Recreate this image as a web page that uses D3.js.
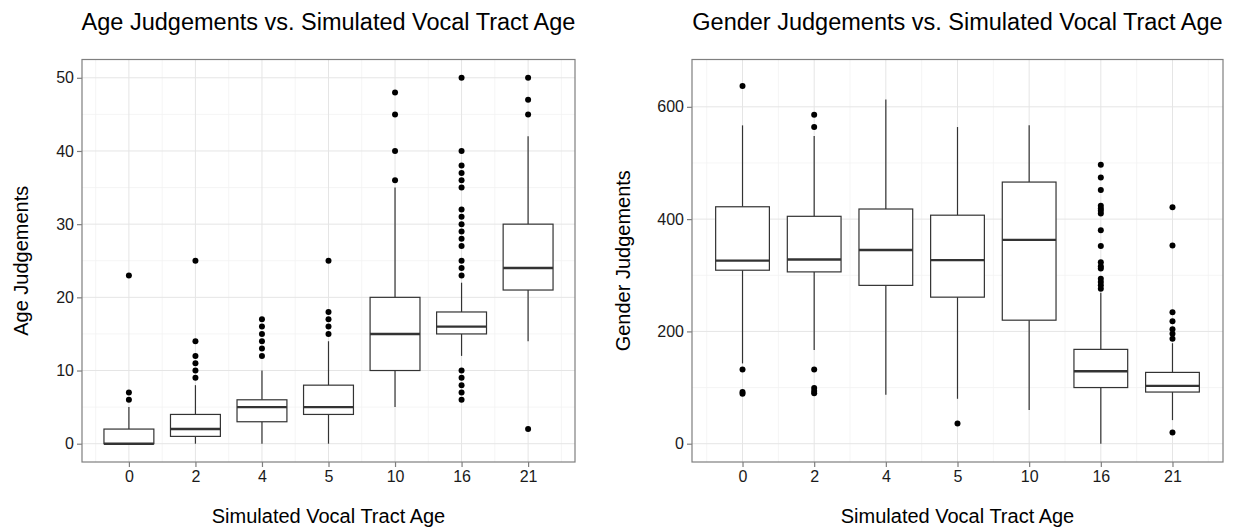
<!DOCTYPE html>
<html>
<head>
<meta charset="utf-8">
<script src="https://cdn.jsdelivr.net/npm/d3@7"></script>
<style>
  body { margin: 0; background: #fff; }
  text { font-family: "Liberation Sans", Arial, sans-serif; }
</style>
</head>
<body>
<div id="chart"></div>
<script>
// categories
var ages = ["0", "2", "4", "5", "10", "16", "21"];

// age judgements (box stats)
var ageLow = [0, 0, 0, 0, 5, 12, 14];
var ageQ1 = [0, 1, 3, 4, 10, 15, 21];
var ageMed = [0, 2, 5, 5, 15, 16, 24];
var ageQ3 = [2, 4, 6, 8, 20, 18, 30];
var ageHigh = [5, 8, 10, 14, 35, 22, 42];
var ageOut = [
  [6, 7, 23],
  [9, 10, 11, 12, 14, 25],
  [12, 13, 14, 15, 16, 17],
  [15, 16, 17, 18, 25],
  [36, 40, 45, 48],
  [6, 7, 8, 9, 10, 23, 24, 25, 27, 28, 29, 30, 31, 32, 35, 36, 37, 38, 40, 50],
  [2, 45, 47, 50]
];
var ageTicks = [0, 10, 20, 30, 40, 50];
var ageMinor = [5, 15, 25, 35, 45];

// gender judgements
var genLow = [143, 167, 87, 80, 60, 0, 42];
var genQ1 = [309, 306, 282, 261, 220, 100, 92];
var genMed = [326, 328, 345, 327, 363, 129, 103];
var genQ3 = [422, 405, 418, 407, 466, 168, 127];
var genHigh = [567, 548, 613, 564, 567, 269, 179];
var genOut = [
  [89, 92, 132, 637],
  [90, 94, 99, 132, 564, 586],
  [],
  [36],
  [],
  [276, 282, 288, 294, 312, 316, 323, 352, 380, 410, 415, 419, 424, 452, 474, 497],
  [20, 187, 196, 204, 218, 234, 353, 421]
];
var genTicks = [0, 200, 400, 600];
var genMinor = [100, 300, 500];

var W = 1239, H = 529;
var svg = d3.select("#chart").append("svg")
  .attr("width", W)
  .attr("height", H);

function panel(opt) {
  var left = opt.left, right = opt.right, top = 59.5, bottom = 462;
  var x = d3.scalePoint().domain(ages).range([left, right]).padding(0.705);
  var y = d3.scaleLinear().domain(opt.ydomain).range([bottom, top]);
  var step = x.step();
  var bw = step * 0.75;
  var g = svg.append("g");

  // minor grid
  g.selectAll(".ymin").data(opt.minor).enter().append("line")
    .attr("x1", left).attr("x2", right)
    .attr("y1", d => y(d)).attr("y2", d => y(d))
    .attr("stroke", "#f2f2f2").attr("stroke-width", 0.8);
  var xMinor = ages.map(a => x(a) - step / 2).concat([x(ages[ages.length - 1]) + step / 2]);
  g.selectAll(".xmin").data(xMinor).enter().append("line")
    .attr("x1", d => d).attr("x2", d => d)
    .attr("y1", top).attr("y2", bottom)
    .attr("stroke", "#f2f2f2").attr("stroke-width", 0.8);
  // major grid
  g.selectAll(".ymaj").data(opt.ticks).enter().append("line")
    .attr("x1", left).attr("x2", right)
    .attr("y1", d => y(d)).attr("y2", d => y(d))
    .attr("stroke", "#e5e5e5").attr("stroke-width", 1);
  g.selectAll(".xmaj").data(ages).enter().append("line")
    .attr("x1", d => x(d)).attr("x2", d => x(d))
    .attr("y1", top).attr("y2", bottom)
    .attr("stroke", "#e5e5e5").attr("stroke-width", 1);

  // boxes
  var data = ages.map(function (a, i) {
    return { age: a, low: opt.low[i], q1: opt.q1[i], med: opt.med[i], q3: opt.q3[i], high: opt.high[i], out: opt.out[i] };
  });
  var box = g.selectAll(".box").data(data).enter().append("g");
  box.append("line")
    .attr("x1", d => x(d.age)).attr("x2", d => x(d.age))
    .attr("y1", d => y(d.high)).attr("y2", d => y(d.q3))
    .attr("stroke", "#333").attr("stroke-width", 1.2);
  box.append("line")
    .attr("x1", d => x(d.age)).attr("x2", d => x(d.age))
    .attr("y1", d => y(d.q1)).attr("y2", d => y(d.low))
    .attr("stroke", "#333").attr("stroke-width", 1.2);
  box.append("rect")
    .attr("x", d => x(d.age) - bw / 2).attr("width", bw)
    .attr("y", d => y(d.q3)).attr("height", d => y(d.q1) - y(d.q3))
    .attr("fill", "#fff").attr("stroke", "#333").attr("stroke-width", 1.2);
  box.append("line")
    .attr("x1", d => x(d.age) - bw / 2).attr("x2", d => x(d.age) + bw / 2)
    .attr("y1", d => y(d.med)).attr("y2", d => y(d.med))
    .attr("stroke", "#333").attr("stroke-width", 2.4);
  box.selectAll("circle").data(d => d.out.map(v => ({ age: d.age, v: v }))).enter().append("circle")
    .attr("cx", d => x(d.age)).attr("cy", d => y(d.v))
    .attr("r", 3).attr("fill", "#000");

  // border
  g.append("rect")
    .attr("x", left).attr("y", top)
    .attr("width", right - left).attr("height", bottom - top)
    .attr("fill", "none").attr("stroke", "#7f7f7f").attr("stroke-width", 1.2);

  // axes
  var ya = g.append("g").attr("transform", "translate(" + left + ",0)")
    .call(d3.axisLeft(y).tickValues(opt.ticks).tickSize(5).tickPadding(3));
  var xa = g.append("g").attr("transform", "translate(0," + bottom + ")")
    .call(d3.axisBottom(x).tickSize(5).tickPadding(4));
  [ya, xa].forEach(function (a) {
    a.select(".domain").remove();
    a.selectAll("line").attr("stroke", "#7f7f7f").attr("stroke-width", 1.2);
    a.selectAll("text").attr("fill", "#1a1a1a").style("font-size", "16px")
      .style("font-family", "Liberation Sans, Arial, sans-serif");
  });

  // titles
  g.append("text")
    .attr("x", (left + right) / 2).attr("y", 29.5)
    .attr("text-anchor", "middle").style("font-size", "23.5px")
    .text(opt.title);
  g.append("text")
    .attr("x", (left + right) / 2).attr("y", 523)
    .attr("text-anchor", "middle").style("font-size", "20px")
    .text("Simulated Vocal Tract Age");
  g.append("text")
    .attr("transform", "translate(" + opt.ylabX + "," + (top + bottom) / 2 + ") rotate(-90)")
    .attr("text-anchor", "middle").style("font-size", "20px")
    .text(opt.ylab);
}

panel({
  left: 82, right: 575, ydomain: [-2.5, 52.5],
  ticks: ageTicks, minor: ageMinor,
  low: ageLow, q1: ageQ1, med: ageMed, q3: ageQ3, high: ageHigh, out: ageOut,
  title: "Age Judgements vs. Simulated Vocal Tract Age",
  ylab: "Age Judgements", ylabX: 27.5
});
panel({
  left: 692, right: 1223, ydomain: [-32.6, 684.3],
  ticks: genTicks, minor: genMinor,
  low: genLow, q1: genQ1, med: genMed, q3: genQ3, high: genHigh, out: genOut,
  title: "Gender Judgements vs. Simulated Vocal Tract Age",
  ylab: "Gender Judgements", ylabX: 629.5
});
</script>
</body>
</html>
